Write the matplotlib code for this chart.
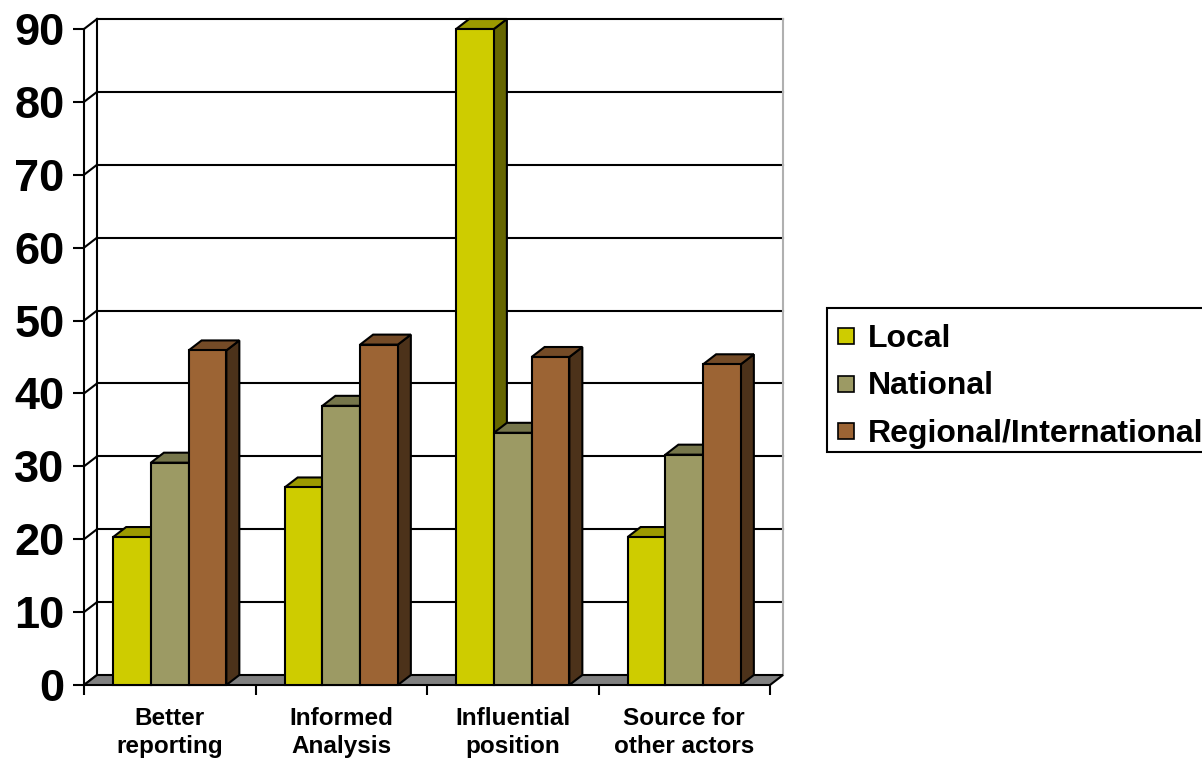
import numpy as np
import matplotlib
matplotlib.use('Agg')
import matplotlib.pyplot as plt
from matplotlib.patches import Polygon, Rectangle

categories = ['Better\nreporting', 'Informed\nAnalysis', 'Influential\nposition', 'Source for\nother actors']
series = ['Local', 'National', 'Regional/International']
local = [20.3, 27.1, 90.0, 20.3]
national = [30.5, 38.3, 34.6, 31.6]
regional = [45.9, 46.7, 45.0, 44.0]
y_ticks = [0, 10, 20, 30, 40, 50, 60, 70, 80, 90]

front_colors = ['#cecc00', '#9c9a64', '#9c6434']
top_colors = ['#9c9a00', '#76764b', '#744b27']
side_colors = ['#666600', '#5a5a3a', '#4c321a']

plt.rcParams['font.family'] = ['Liberation Sans', 'DejaVu Sans']
plt.rcParams['font.weight'] = 'bold'

W, H = 1202, 767
fig = plt.figure(figsize=(W/100., H/100.), dpi=100)
ax = fig.add_axes([84./W, (H-685.)/H, 686./W, 656./H])
ncat = len(categories)
ax.set_xlim(0, ncat)
ax.set_ylim(0, y_ticks[-1])

# depth of the fake 3d box, in data units
dx = 13./(686./ncat)
dy = 10./(656./y_ticks[-1])
lw = 1.5

##################### walls and floor ########################
ax.add_patch(Rectangle((dx, dy), ncat, y_ticks[-1], fc='white', ec='none', clip_on=False, zorder=0))
for v in y_ticks[1:]:
	ax.plot([dx, ncat+dx], [v+dy, v+dy], color='k', lw=lw, clip_on=False, zorder=1)
for v in y_ticks:
	ax.plot([0, dx], [v, v+dy], color='k', lw=lw, clip_on=False, zorder=1)
ax.plot([dx, dx], [dy, y_ticks[-1]+dy], color='k', lw=lw, clip_on=False, zorder=1)
ax.plot([ncat+dx, ncat+dx], [dy, y_ticks[-1]+dy], color='#b0b0b0', lw=lw, clip_on=False, zorder=1)
ax.add_patch(Polygon([(0, 0), (ncat, 0), (ncat+dx, dy), (dx, dy)], closed=True,
	fc='#808080', ec='k', lw=lw, clip_on=False, zorder=2))

##################### the bars ########################
bw = 0.22
gap = (1. - 3*bw)/2.
z = 3.
for j in range(ncat):
	for i, vals in enumerate([local, national, regional]):
		x0 = j + gap + i*bw
		v = vals[j]
		ax.add_patch(Polygon([(x0+bw, 0), (x0+bw, v), (x0+bw+dx, v+dy), (x0+bw+dx, dy)], closed=True,
			fc=side_colors[i], ec='k', lw=lw, clip_on=False, zorder=z))
		ax.add_patch(Polygon([(x0, v), (x0+bw, v), (x0+bw+dx, v+dy), (x0+dx, v+dy)], closed=True,
			fc=top_colors[i], ec='k', lw=lw, clip_on=False, zorder=z+0.01))
		ax.bar(x0, v, width=bw, align='edge', color=front_colors[i], edgecolor='k', lw=lw,
			clip_on=False, zorder=z+0.02)
		z += 0.1

##################### axes ########################
for s in ['top', 'right', 'bottom']:
	ax.spines[s].set_visible(False)
ax.spines['left'].set_linewidth(lw)
ax.spines['left'].set_zorder(1)
ax.set_yticks(y_ticks)
ax.tick_params(axis='y', length=8, width=lw, pad=6, labelsize=32.5)
ax.set_xticks(range(ncat+1))
ax.set_xticklabels([])
ax.tick_params(axis='x', which='major', length=7.5, width=lw)
ax.set_xticks(np.arange(ncat)+0.5, minor=True)
ax.set_xticklabels(categories, minor=True, fontsize=17.5, linespacing=1.27)
ax.tick_params(axis='x', which='minor', length=0, pad=16)

##################### legend ########################
fig.add_artist(Rectangle((827./W, (H-452.)/H), 400./W, 144./H, transform=fig.transFigure,
	fc='white', ec='k', lw=lw))
for i, name in enumerate(series):
	yc = 336. + 47.5*i
	fig.add_artist(Rectangle((838./W, (H-yc-8.)/H), 16./W, 16./H, transform=fig.transFigure,
		fc=front_colors[i], ec='k', lw=1.2))
	fig.text(868./W, (H-yc-11.)/H, name, fontsize=23, fontweight='bold', va='baseline', ha='left')

plt.savefig('out.png', dpi=100)
